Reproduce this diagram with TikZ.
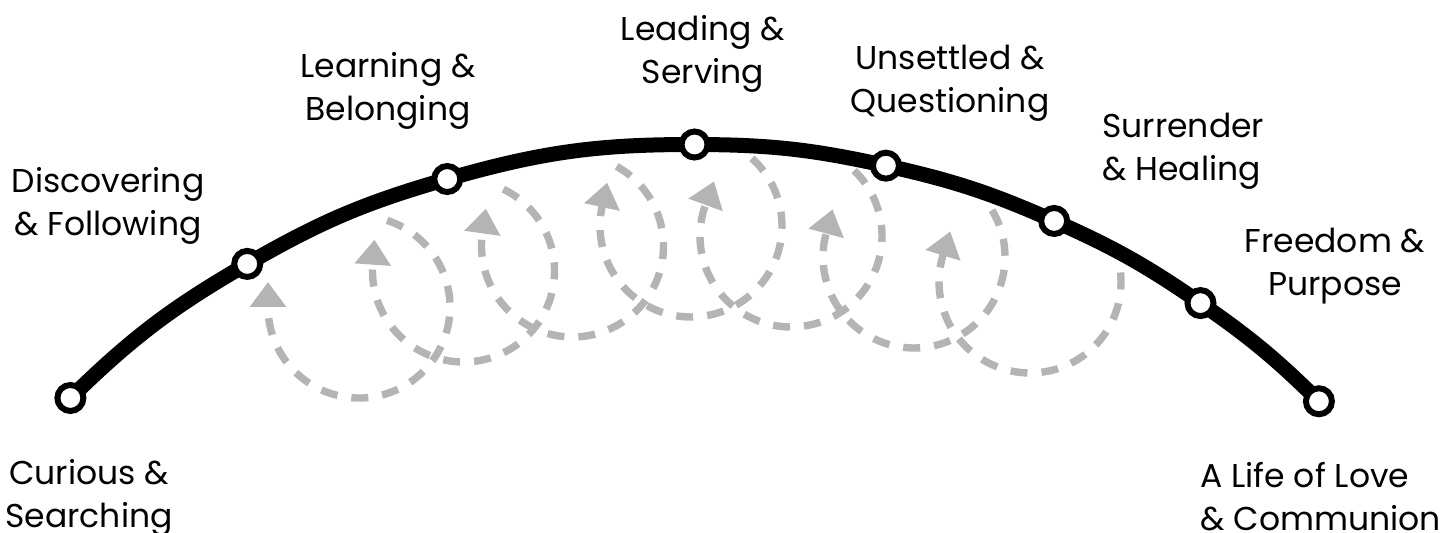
\documentclass[tikz,border=0pt]{standalone}
\usepackage{fontspec}
\setmainfont{Poppins}
\usetikzlibrary{arrows.meta}
\definecolor{loopgray}{RGB}{180,180,180}

\begin{document}
\begin{tikzpicture}[
  x=0.5pt, y=0.5pt,
  track/.style={line width=7.5pt},
  dot/.style={draw,circle,fill=white,line width=3pt,minimum size=13pt,inner sep=0pt},
  cycle/.style={loopgray,line width=3.7pt,dash pattern=on 8.5pt off 7pt,
    -{Triangle[width=17.5pt,length=12.5pt]}},
  lbl/.style={align=center,inner sep=0pt,font=\fontsize{16.5}{21.5}\selectfont}
]
\useasboundingbox (0,0) rectangle (1453,533);
\coordinate (ctr) at (693,-503);
\foreach \a [count=\i from 0] in {134.3,120,106,89.9,77.5,66.1,55.3,45.4}
  \path (ctr) ++(\a:891.5) coordinate (p\i);

% loops: centre x/y, start angle, end angle
\foreach \cx/\cy/\sa/\ea in {359/226/72/-180, 463.5/262/64/-184, 572.5/287/61/-188,
    691/307/48/-192, 791/297/46/-200, 914/276/31/-195, 1030/251/6/-197}
  \draw[cycle] (\cx,\cy) ++(\sa:91) arc[start angle=\sa, end angle=\ea, radius=91]
    -- ++(\ea-90:25);

\draw[track] (p0) to[bend left=7.15] (p1) to[bend left=7] (p2) to[bend left=8.05] (p3)
  to[bend left=6.2] (p4) to[bend left=5.7] (p5) to[bend left=5.4] (p6)
  to[bend left=4.95] (p7);
\foreach \i in {0,...,7}
  \node[dot] (n\i) at (p\i) {};

\node[lbl,anchor=north] (t0) at (89,74) {Curious \&\\Searching};
\node[lbl,anchor=north] (t1) at (108,366) {Discovering\\\& Following};
\node[lbl,anchor=north] (t2) at (388,481) {Learning \&\\Belonging};
\node[lbl,anchor=north] (t3) at (703,518) {Leading \&\\Serving};
\node[lbl,anchor=north] (t4) at (950,488) {Unsettled \&\\Questioning};
\node[lbl,anchor=north west,align=left] (t5) at (1102,420) {Surrender\\\& Healing};
\node[lbl,anchor=north] (t6) at (1335,305) {Freedom \&\\Purpose};
\node[lbl,anchor=north west,align=left] (t7) at (1200,71) {A Life of Love\\\& Communion};
\end{tikzpicture}
\end{document}
